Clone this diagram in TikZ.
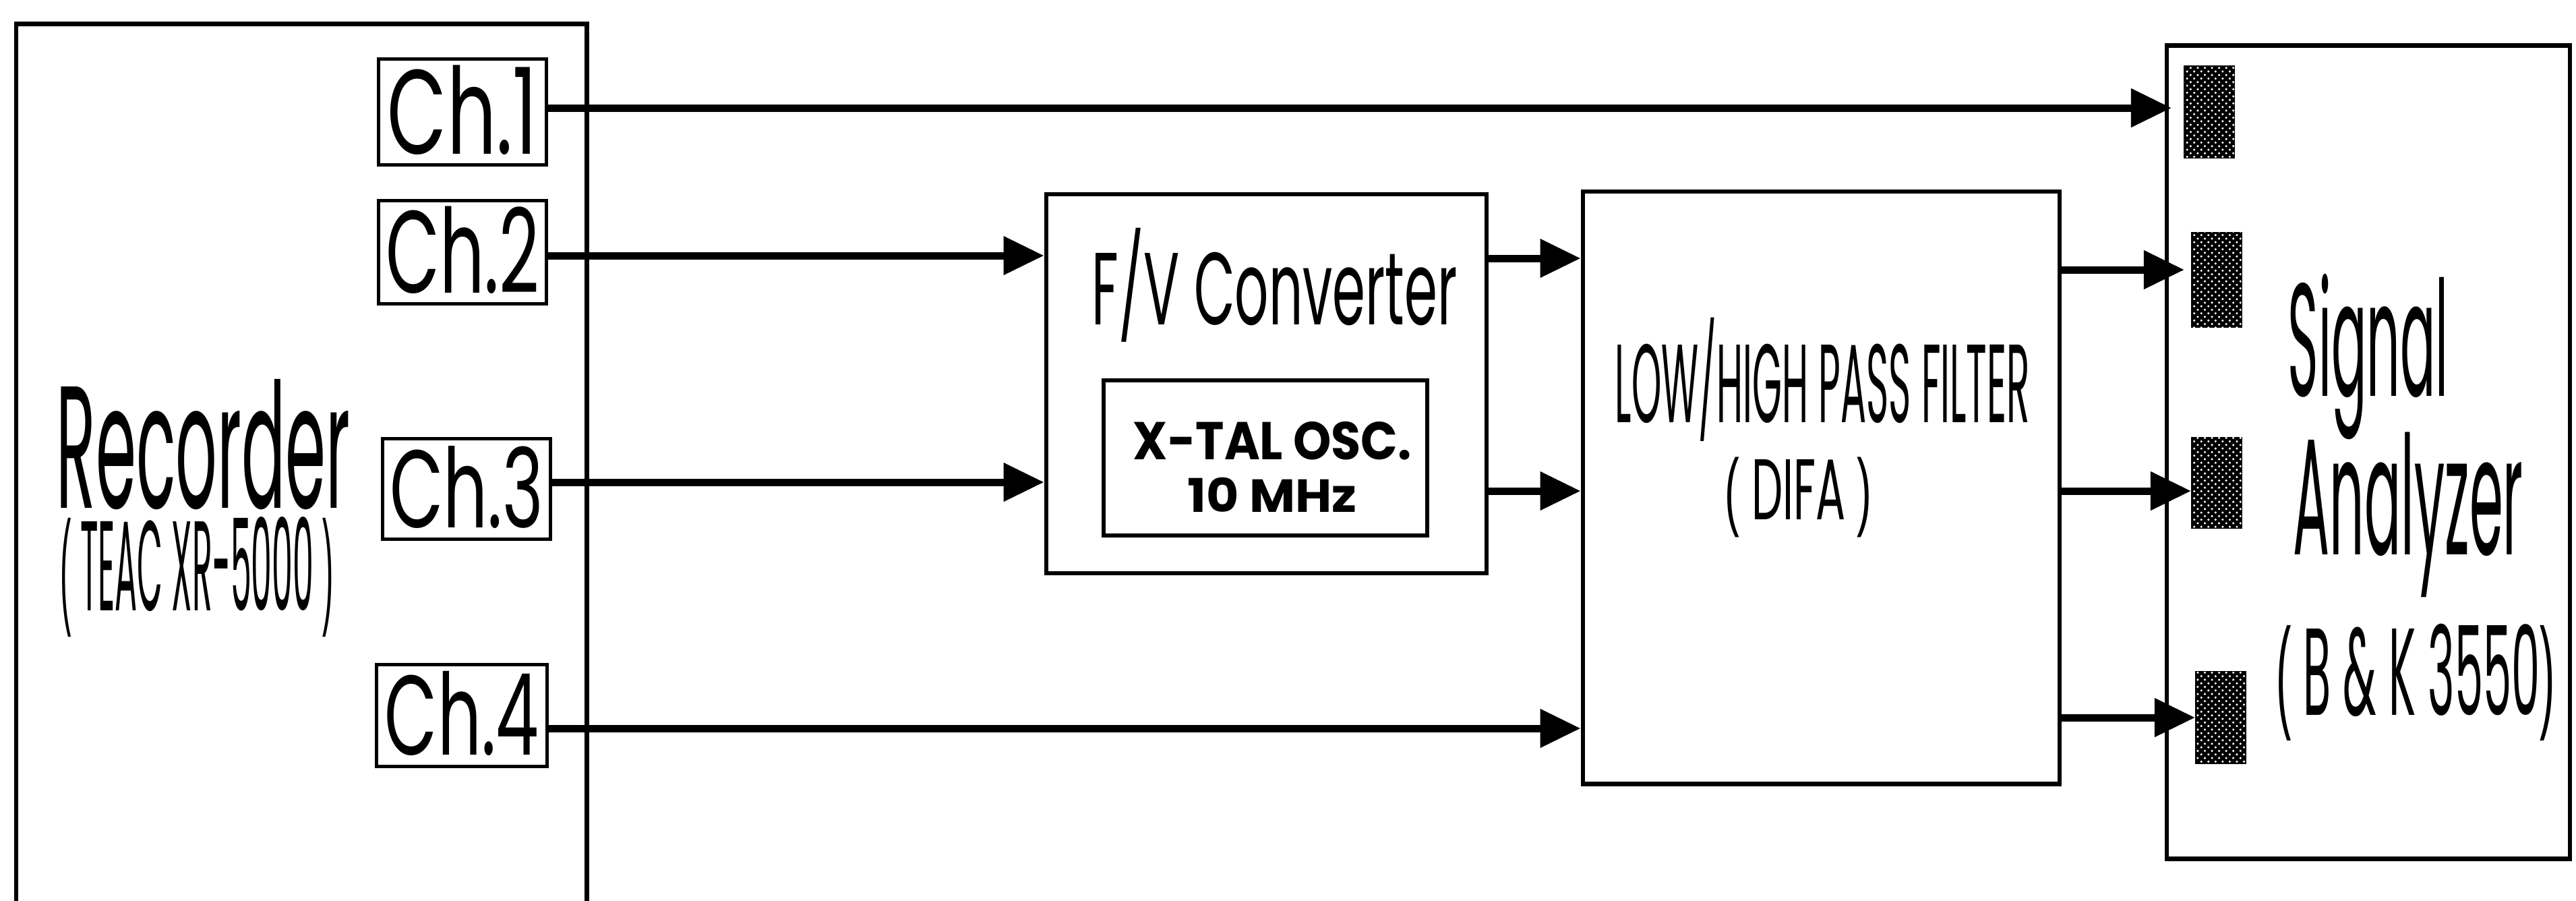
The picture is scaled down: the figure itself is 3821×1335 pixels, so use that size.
\documentclass[tikz,border=0pt]{standalone}
\usepackage{fontspec}
\setmainfont{Poppins}
\newfontfamily\parfont{Liberation Sans}
\usetikzlibrary{arrows.meta,patterns}
\newlength\pxu \setlength\pxu{0.01cm}
% scale text to a given width and cap height
\newcommand\fitc[3]{\resizebox{#1\pxu}{#2\pxu}{\vphantom{H}\smash{#3}}}
\newcommand\lp{{\parfont(}}
\newcommand\rp{{\parfont)}}
\begin{document}
\begin{tikzpicture}[x=0.01cm,y=-0.01cm,
  bigbox/.style={draw, line width=0.065cm, inner sep=0},
  chbox/.style={draw, line width=0.05cm, inner sep=0},
  port/.style={draw, fill=black, line width=0.02cm, inner sep=0, minimum width=0.74cm,
    postaction={pattern=crosshatch dots, pattern color=white}},
  lbl/.style={inner sep=0, anchor=base west},
  conn/.style={line width=0.11cm, -{Triangle[length=0.6cm,width=0.55cm]}}]
\useasboundingbox (0,0) rectangle (3821,1335);
\clip (0,0) rectangle (3821,1335);
\fill[white] (0,0) rectangle (3821,1335);

% main boxes
\node[bigbox, minimum width=8.46cm, minimum height=13.64cm] (rec) at (447,718) {};
\node[bigbox, minimum width=6.53cm, minimum height=5.62cm] (fv) at (1878.5,569) {};
\node[bigbox, minimum width=4.80cm, minimum height=2.30cm] (xtal) at (1877,679) {};
\node[bigbox, minimum width=7.07cm, minimum height=8.78cm] (lh) at (2701.5,723) {};
\node[bigbox, minimum width=5.98cm, minimum height=12.05cm] (sa) at (3513,670.5) {};

% channel boxes
\node[chbox, minimum width=2.49cm, minimum height=1.56cm] (ch1) at (686,166) {\fitc{222}{124}{Ch.1}};
\node[chbox, minimum width=2.49cm, minimum height=1.52cm] (ch2) at (686,374) {\fitc{228}{121}{Ch.2}};
\node[chbox, minimum width=2.49cm, minimum height=1.49cm] (ch3) at (692,725) {\fitc{228}{114}{Ch.3}};
\node[chbox, minimum width=2.52cm, minimum height=1.51cm] (ch4) at (685,1061) {\fitc{228}{117}{Ch.4}};

% analyzer ports
\node[port, minimum height=1.36cm] (p1) at (3277,166) {};
\node[port, minimum height=1.40cm] (p2) at (3288,415) {};
\node[port, minimum height=1.34cm] (p3) at (3288,716) {};
\node[port, minimum height=1.36cm] (p4) at (3294,1064) {};

% texts
\node[lbl] (rect) at (83,753) {\fitc{436}{180}{Recorder}};
\node[lbl] (recm) at (89,905) {\fitc{405}{132}{\lp\ TEAC XR-5000 \rp}};
\node[lbl] (fvt) at (1619,481) {\fitc{542}{106}{F/V Converter}};
\node[lbl] (xt1) at (1680,681) {\fitc{413}{55}{\bfseries X-TAL OSC.}};
\node[lbl] (xt2) at (1761,759) {\fitc{251}{48}{\bfseries 10 MHz}};
\node[lbl] (lht) at (2395,626) {\fitc{615}{115}{LOW/HIGH PASS FILTER}};
\node[lbl] (lhm) at (2558,770) {\fitc{218}{89}{\lp\ DIFA \rp}};
\node[lbl] (sat1) at (3393,587) {\fitc{238}{166}{Signal}};
\node[lbl] (sat2) at (3401,822) {\fitc{341}{171}{Analyzer}};
\node[lbl] (sam) at (3376,1060) {\fitc{413}{128}{\lp\ B \& K 3550\rp}};

% connectors
\draw[conn, shorten >=0.18cm] (ch1.east |- 0,160) -- (p1.west |- 0,160);
\draw[conn] (ch2.east |- 0,379) -- (fv.west |- 0,379);
\draw[conn] (ch3.east |- 0,715) -- (fv.west |- 0,715);
\draw[conn] (ch4.east |- 0,1080) -- (lh.west |- 0,1080);
\draw[conn] (fv.east |- 0,383) -- (lh.west |- 0,383);
\draw[conn] (fv.east |- 0,728) -- (lh.west |- 0,728);
\draw[conn, shorten >=0.1cm] (lh.east |- 0,400) -- (p2.west |- 0,400);
\draw[conn] (lh.east |- 0,728) -- (p3.west |- 0,728);
\draw[conn] (lh.east |- 0,1064) -- (p4.west |- 0,1064);
\end{tikzpicture}
\end{document}
